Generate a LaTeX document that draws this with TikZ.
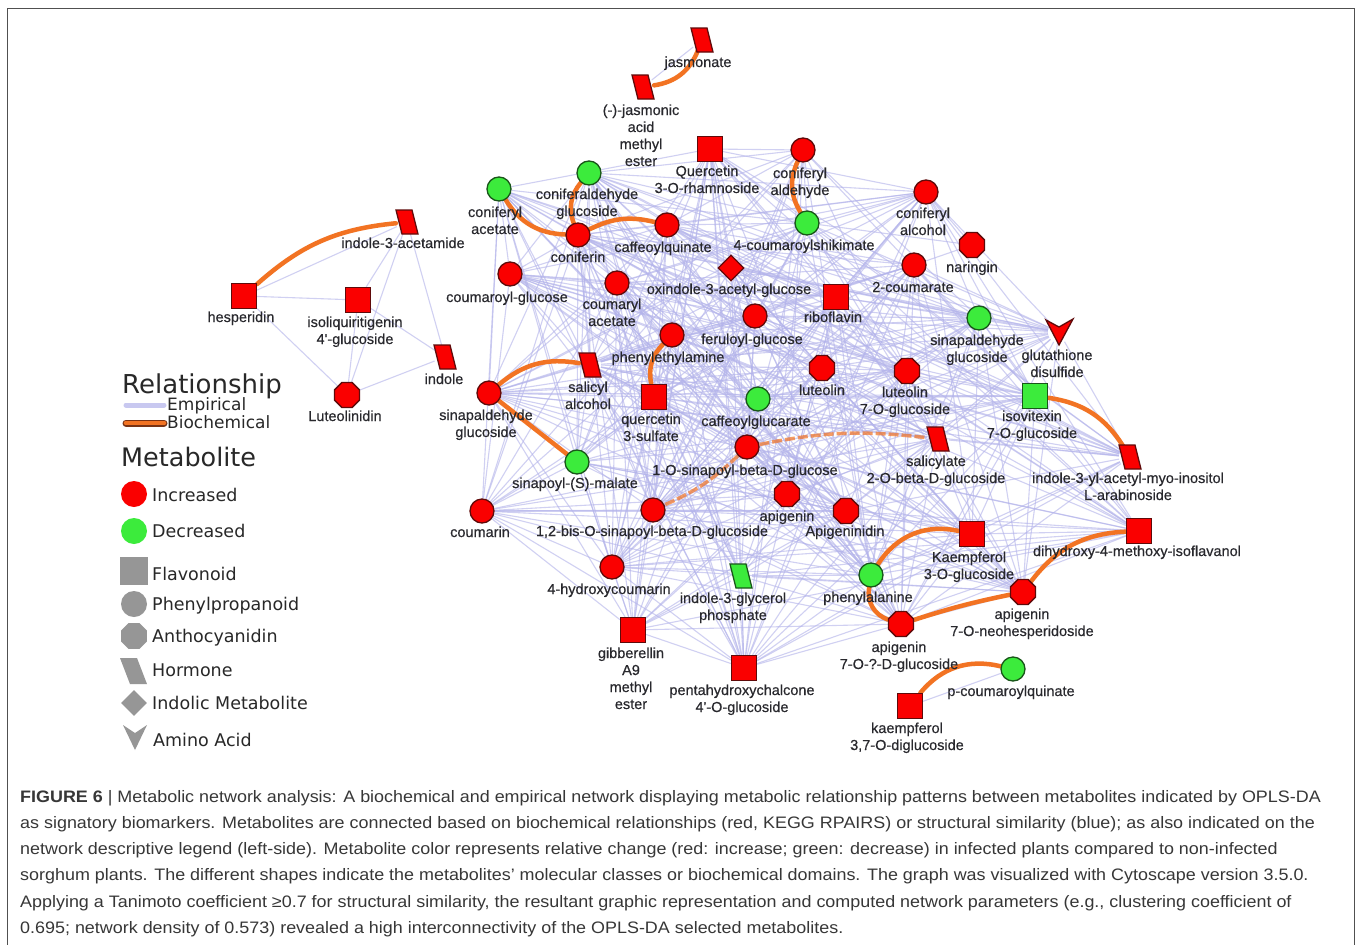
\documentclass[tikz,border=0pt]{standalone}
\usepackage{fontspec}
\usetikzlibrary{shapes.geometric}
\newfontfamily\labfont[FakeBold=0.4]{Liberation Sans}
\newfontfamily\legfont{DejaVu Sans}
\newfontfamily\capfont[FakeStretch=1.08]{Liberation Sans}
\pgfdeclarelayer{bg}
\pgfsetlayers{bg,main}
\definecolor{nred}{RGB}{250,0,0}
\definecolor{nredb}{RGB}{95,10,10}
\definecolor{ngreen}{RGB}{60,235,60}
\definecolor{ngreenb}{RGB}{25,85,25}
\definecolor{empc}{RGB}{180,180,235}
\definecolor{emplg}{RGB}{200,200,240}
\definecolor{bio}{RGB}{242,115,35}
\definecolor{biodark}{RGB}{120,50,20}
\definecolor{labtxt}{RGB}{40,40,45}
\definecolor{legtxt}{RGB}{40,40,40}
\definecolor{leggray}{RGB}{150,150,150}
\definecolor{captxt}{RGB}{55,55,55}
\definecolor{framec}{RGB}{80,80,80}
\newcommand\hormshape[3]{\filldraw[fill=#2,draw=#3,line width=1.3pt]
  ([shift={(-11,-12)}]#1.center) -- ([shift={(5,-12)}]#1.center) --
  ([shift={(11,12)}]#1.center) -- ([shift={(-5,12)}]#1.center) -- cycle;}
\begin{document}
\begin{tikzpicture}[x=1pt,y=-1pt,
  nbase/.style={line width=1.3pt, inner sep=0pt},
  rcirc/.style={nbase, circle, minimum size=24pt, fill=nred, draw=nredb},
  gcirc/.style={nbase, circle, minimum size=24pt, fill=ngreen, draw=ngreenb},
  rsq/.style={nbase, rectangle, minimum size=25pt, fill=nred, draw=nredb},
  gsq/.style={nbase, rectangle, minimum size=25pt, fill=ngreen, draw=ngreenb},
  roct/.style={nbase, regular polygon, regular polygon sides=8, minimum size=27pt, fill=nred, draw=nredb},
  rdia/.style={nbase, diamond, minimum size=26pt, fill=nred, draw=nredb},
  hold/.style={circle, minimum size=22pt, inner sep=0pt},
  lab/.style={font=\labfont\fontsize{14.5}{17}\selectfont, text=labtxt, align=center, inner sep=0pt, anchor=base},
  leg/.style={font=\legfont\fontsize{17.5}{20}\selectfont, text=legtxt, inner sep=0pt, anchor=base west},
  legh/.style={font=\legfont\fontsize{26}{28}\selectfont, text=legtxt, inner sep=0pt, anchor=base west},
  empline/.style={draw=empc, line width=1.1pt, opacity=0.62},
  bioline/.style={draw=bio, line width=4.5pt, line cap=round},
  biofade/.style={draw=bio, line width=3.5pt, opacity=0.7, dash pattern=on 10pt off 3pt},
]
\useasboundingbox (0,0) rectangle (1358,945);
\begin{pgfonlayer}{bg}
\fill[white] (0,0) rectangle (1358,945);
\end{pgfonlayer}
\coordinate (fbl) at (7.5,946);
\coordinate (ftl) at (7.5,8.5);
\coordinate (ftr) at (1354.5,8.5);
\coordinate (fbr) at (1354.5,946);
\draw[framec, line width=1.6pt] (fbl) -- (ftl) -- (ftr) -- (fbr);

% ---------- nodes ----------
\node[gcirc] (cacet) at (499,189) {};
\node[gcirc] (cgluc) at (589,173) {};
\node[rsq] (qrham) at (710,149) {};
\node[rcirc] (cald) at (803,150) {};
\node[rcirc] (cferin) at (578,235) {};
\node[rcirc] (cquin) at (667,225) {};
\node[gcirc] (cshik) at (807,223) {};
\node[rcirc] (calc) at (926,192) {};
\node[roct] (narin) at (972,245) {};
\node[rcirc] (coum2) at (914,265) {};
\node[rsq] (ribo) at (836,297) {};
\node[gcirc] (sgR) at (979,318) {};
\node[hold] (glut) at (1059,332) {};
\node[roct] (lut) at (822,368) {};
\node[roct] (lut7) at (907,371) {};
\node[gsq] (isov) at (1035,396) {};
\node[rcirc] (cgl) at (510,274) {};
\node[rcirc] (cacy) at (617,283) {};
\node[rdia] (oxin) at (731,268) {};
\node[rcirc] (phe) at (672,335) {};
\node[rcirc] (fer) at (755,316) {};
\node[hold] (salA) at (590,365) {};
\node[rcirc] (sgL) at (489,393) {};
\node[rsq] (q3s) at (654,397) {};
\node[gcirc] (cglr) at (758,399) {};
\node[rcirc] (sin1) at (747,447) {};
\node[hold] (salG) at (938,439) {};
\node[hold] (iaino) at (1130,457) {};
\node[gcirc] (smal) at (577,462) {};
\node[rcirc] (coumarin) at (482,511) {};
\node[rcirc] (bis) at (653,510) {};
\node[roct] (api) at (787,494) {};
\node[roct] (apid) at (846,511) {};
\node[rsq] (kae3) at (972,534) {};
\node[rsq] (dihy) at (1139,531) {};
\node[gcirc] (phal) at (871,575) {};
\node[roct] (apin) at (1023,592) {};
\node[roct] (apig) at (901,624) {};
\node[rcirc] (hyc) at (612,567) {};
\node[hold] (igp) at (741,576) {};
\node[rsq] (gib) at (633,630) {};
\node[rsq] (penta) at (744,668) {};
\node[hold] (jas) at (702,40) {};
\node[hold] (jme) at (643,87) {};
\node[hold] (i3a) at (407,222) {};
\node[rsq] (hesp) at (244,296) {};
\node[rsq] (isol) at (358,300) {};
\node[hold] (indole) at (445,357) {};
\node[roct] (lutd) at (347,395) {};
\node[gcirc] (pcq) at (1013,669) {};
\node[rsq] (k37) at (910,706) {};

\hormshape{jas}{nred}{nredb}
\hormshape{jme}{nred}{nredb}
\hormshape{i3a}{nred}{nredb}
\hormshape{indole}{nred}{nredb}
\hormshape{salA}{nred}{nredb}
\hormshape{salG}{nred}{nredb}
\hormshape{iaino}{nred}{nredb}
\hormshape{igp}{ngreen}{ngreenb}
\filldraw[fill=nred,draw=nredb,line width=1.3pt]
  ([shift={(-13,-12)}]glut.center) -- ([shift={(0,-5)}]glut.center) --
  ([shift={(14,-13)}]glut.center) -- ([shift={(0,13)}]glut.center) -- cycle;

% ---------- edges ----------
\begin{pgfonlayer}{bg}
\pgfmathsetseed{4711}
\def\meshlist{cacet,cgluc,qrham,cald,cferin,cquin,cshik,calc,coum2,ribo,sgR,glut,lut,lut7,isov,cgl,cacy,oxin,phe,fer,salA,sgL,q3s,cglr,sin1,salG,iaino,smal,coumarin,bis,api,apid,kae3,dihy,phal,apin,apig,hyc,igp,gib,penta}
\foreach \a [count=\i] in \meshlist {
  \foreach \b [count=\j] in \meshlist {
    \ifnum\j>\i
      \pgfmathtruncatemacro\keep{rnd<0.62}
      \ifnum\keep=1 \draw[empline] (\a) -- (\b); \fi
    \fi
  }
}
\foreach \a/\b in {narin/coum2,narin/calc,narin/cshik,
  hesp/i3a,hesp/isol,hesp/lutd,isol/i3a,isol/lutd,isol/indole,i3a/indole,i3a/lutd,indole/lutd,
  jas/jme,pcq/k37}
  \draw[empline] (\a) -- (\b);
% biochemical
\draw[bioline] (jas) to[bend left=30] (jme);
\draw[bioline] (hesp) to[bend left=18] (i3a);
\draw[bioline] (cacet) to[bend right=28] (cferin);
\draw[bioline] (cgluc) to[bend right=30] (cferin);
\draw[bioline] (cferin) to[bend left=20] (cquin);
\draw[bioline] (cald) to[bend right=28] (cshik);
\draw[bioline] (sgL) to[bend left=25] (salA);
\draw[bioline] (sgL) -- (smal);
\draw[bioline] (phe) to[bend right=28] (q3s);
\draw[biofade] (sin1) to[bend left=9] (salG);
\draw[biofade] (sin1) to[bend left=10] (bis);
\draw[bioline] (isov) to[bend left=25] (iaino);
\draw[bioline] (kae3) to[bend right=35] (phal);
\draw[bioline] (phal) to[bend right=40] (apig);
\draw[bioline] (apig) to[bend left=3] (apin);
\draw[bioline] (apin) to[bend left=25] (dihy);
\draw[bioline] (pcq) to[bend right=32] (k37);
\end{pgfonlayer}

% ---------- labels (base = baseline of last line) ----------
\node[lab] (ljas) at (698,67) {jasmonate};
\node[lab] (ljme) at (641,166) {(-)-jasmonic\\acid\\methyl\\ester};
\node[lab] (lqrham) at (707,193) {Quercetin\\3-O-rhamnoside};
\node[lab] (lcald) at (800,195) {coniferyl\\aldehyde};
\node[lab] (lcgluc) at (587,216) {coniferaldehyde\\glucoside};
\node[lab] (lcacet) at (495,234) {coniferyl\\acetate};
\node[lab] (lcferin) at (578,262) {coniferin};
\node[lab] (lcquin) at (663,252) {caffeoylquinate};
\node[lab] (lcshik) at (804,250) {4-coumaroylshikimate};
\node[lab] (lcalc) at (923,235) {coniferyl\\alcohol};
\node[lab] (lnarin) at (972,272) {naringin};
\node[lab] (lcoum2) at (913,292) {2-coumarate};
\node[lab] (lribo) at (833,322) {riboflavin};
\node[lab] (lsgR) at (977,362) {sinapaldehyde\\glucoside};
\node[lab] (lglut) at (1057,377) {glutathione\\disulfide};
\node[lab] (llut) at (822,395) {luteolin};
\node[lab] (llut7) at (905,414) {luteolin\\7-O-glucoside};
\node[lab] (lisov) at (1032,438) {isovitexin\\7-O-glucoside};
\node[lab] (li3a) at (403,248) {indole-3-acetamide};
\node[lab] (lhesp) at (241,322) {hesperidin};
\node[lab] (lisol) at (355,344) {isoliquiritigenin\\4'-glucoside};
\node[lab] (lindole) at (444,384) {indole};
\node[lab] (llutd) at (345,421) {Luteolinidin};
\node[lab] (lcgl) at (507,302) {coumaroyl-glucose};
\node[lab] (lcacy) at (612,326) {coumaryl\\acetate};
\node[lab] (loxin) at (729,294) {oxindole-3-acetyl-glucose};
\node[lab] (lphe) at (668,362) {phenylethylamine};
\node[lab] (lfer) at (752,344) {feruloyl-glucose};
\node[lab] (lsalA) at (588,409) {salicyl\\alcohol};
\node[lab] (lsgL) at (486,437) {sinapaldehyde\\glucoside};
\node[lab] (lq3s) at (651,441) {quercetin\\3-sulfate};
\node[lab] (lcglr) at (756,426) {caffeoylglucarate};
\node[lab] (lsin1) at (745,475) {1-O-sinapoyl-beta-D-glucose};
\node[lab] (lsalG) at (936,483) {salicylate\\2-O-beta-D-glucoside};
\node[lab] (liaino) at (1128,500) {indole-3-yl-acetyl-myo-inositol\\L-arabinoside};
\node[lab] (lsmal) at (575,488) {sinapoyl-(S)-malate};
\node[lab] (lcoumarin) at (480,537) {coumarin};
\node[lab] (lbis) at (652,536) {1,2-bis-O-sinapoyl-beta-D-glucoside};
\node[lab] (lapi) at (787,521) {apigenin};
\node[lab] (lapid) at (845,536) {Apigeninidin};
\node[lab] (lkae3) at (969,579) {Kaempferol\\3-O-glucoside};
\node[lab] (ldihy) at (1137,556) {dihydroxy-4-methoxy-isoflavanol};
\node[lab] (lphal) at (868,602) {phenylalanine};
\node[lab] (lapin) at (1022,636) {apigenin\\7-O-neohesperidoside};
\node[lab] (lapig) at (899,669) {apigenin\\7-O-?-D-glucoside};
\node[lab] (lpcq) at (1011,696) {p-coumaroylquinate};
\node[lab] (lk37) at (907,750) {kaempferol\\3,7-O-diglucoside};
\node[lab] (lhyc) at (609,594) {4-hydroxycoumarin};
\node[lab] (ligp) at (733,620) {indole-3-glycerol\\phosphate};
\node[lab] (lgib) at (631,709) {gibberellin\\A9\\methyl\\ester};
\node[lab] (lpenta) at (742,712) {pentahydroxychalcone\\4'-O-glucoside};

% ---------- legend ----------
\node[legh] (lgrel) at (122,393) {Relationship};
\coordinate (lgE1) at (126,405);
\coordinate (lgE2) at (164,405);
\draw[emplg, line width=5pt, line cap=round] (lgE1) -- (lgE2);
\node[leg, font=\legfont\fontsize{17}{20}\selectfont] (lgemp) at (167,410) {Empirical};
\coordinate (lgB1) at (126,423);
\coordinate (lgB2) at (164,423);
\draw[biodark, line width=7pt, line cap=round] (lgB1) -- (lgB2);
\draw[bio, line width=4.6pt, line cap=round] (lgB1) -- (lgB2);
\node[leg, font=\legfont\fontsize{17}{20}\selectfont] (lgbio) at (167,428) {Biochemical};
\node[legh, font=\legfont\fontsize{25.5}{28}\selectfont] (lgmet) at (121,466) {Metabolite};
\node[circle, fill=nred, minimum size=26pt, inner sep=0pt] (lgred) at (134,494) {};
\node[leg] (lginc) at (152,501) {Increased};
\node[circle, fill=ngreen, minimum size=26pt, inner sep=0pt] (lggreen) at (134,531) {};
\node[leg] (lgdec) at (152,537) {Decreased};
\node[rectangle, fill=leggray, minimum size=28pt, inner sep=0pt] (lgflav) at (134,571) {};
\node[leg] (lgflavt) at (152,580) {Flavonoid};
\node[circle, fill=leggray, minimum size=26pt, inner sep=0pt] (lgphen) at (134,604) {};
\node[leg] (lgphent) at (152,610) {Phenylpropanoid};
\node[regular polygon, regular polygon sides=8, fill=leggray, minimum size=28pt, inner sep=0pt] (lganth) at (134,636) {};
\node[leg] (lganthtx) at (152,642) {Anthocyanidin};
\node[hold] (lghorm) at (133,671) {};
\fill[leggray] ([shift={(-13,-13)}]lghorm.center) -- ([shift={(4,-13)}]lghorm.center) --
  ([shift={(14,13)}]lghorm.center) -- ([shift={(-3,13)}]lghorm.center) -- cycle;
\node[leg] (lghormt) at (152,676) {Hormone};
\node[diamond, fill=leggray, minimum size=26pt, inner sep=0pt] (lgind) at (134,703) {};
\node[leg] (lgindt) at (152,709) {Indolic Metabolite};
\node[hold] (lgamino) at (135,737) {};
\fill[leggray] ([shift={(-12,-12)}]lgamino.center) -- ([shift={(0,-4)}]lgamino.center) --
  ([shift={(12,-12)}]lgamino.center) -- ([shift={(0,13)}]lgamino.center) -- cycle;
\node[leg] (lgaminot) at (153,746) {Amino Acid};

% ---------- caption (base = last line) ----------
\node[anchor=base west, inner sep=0pt, align=left, text=captxt,
  font=\capfont\fontsize{16.6}{26.3}\selectfont] (caption) at (20,933.5)
{\textbf{FIGURE 6} | Metabolic network analysis: A biochemical and empirical network displaying metabolic relationship patterns between metabolites indicated by OPLS-DA\\
as signatory biomarkers. Metabolites are connected based on biochemical relationships (red, KEGG RPAIRS) or structural similarity (blue); as also indicated on the\\
network descriptive legend (left-side). Metabolite color represents relative change (red: increase; green: decrease) in infected plants compared to non-infected\\
sorghum plants. The different shapes indicate the metabolites’ molecular classes or biochemical domains. The graph was visualized with Cytoscape version 3.5.0.\\
Applying a Tanimoto coefficient ≥0.7 for structural similarity, the resultant graphic representation and computed network parameters (e.g., clustering coefficient of\\
0.695; network density of 0.573) revealed a high interconnectivity of the OPLS-DA selected metabolites.};
\end{tikzpicture}
\end{document}
